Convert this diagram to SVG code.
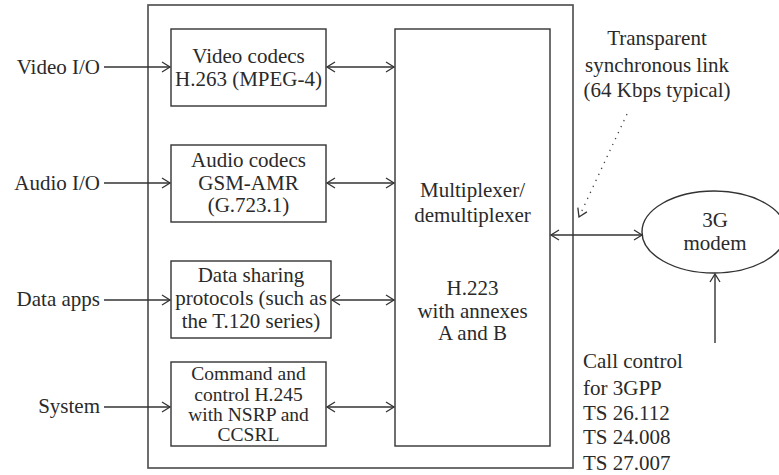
<svg xmlns="http://www.w3.org/2000/svg" width="779" height="475" viewBox="0 0 779 475">
  <style>
    text { font-family: "Liberation Serif", "Times New Roman", serif; font-size: 21px; fill: #2a2a2a; }
    .mid { text-anchor: middle; }
    .end { text-anchor: end; }
    .tight { font-size: 19.5px; }
    .box { fill: #ffffff; stroke: #333333; stroke-width: 1.4; }
    .frame { fill: none; stroke: #555555; stroke-width: 1.7; }
    .wire { fill: none; stroke: #333333; stroke-width: 1.4; }
    .dots { fill: none; stroke: #444444; stroke-width: 1.3; stroke-dasharray: 1.3 5.3; }
  </style>
  <defs>
    <marker id="head" markerUnits="userSpaceOnUse" markerWidth="12" markerHeight="12" refX="9" refY="6" orient="auto-start-reverse" viewBox="0 0 12 12">
      <path d="M1,1 L9,6 L1,11" fill="none" stroke="#333333" stroke-width="1.3"/>
    </marker>
  </defs>

  <!-- terminal frame -->
  <g id="terminal">
    <rect class="frame" x="148" y="5" width="425" height="463"/>
  </g>

  <g id="video-codecs">
    <rect class="box" x="171" y="29" width="155" height="77"/>
    <text class="mid" x="248.5" y="63">Video codecs</text>
    <text class="mid" x="248.5" y="86">H.263 (MPEG-4)</text>
  </g>

  <g id="audio-codecs">
    <rect class="box" x="171" y="145" width="155" height="77"/>
    <text class="mid" x="248.5" y="167">Audio codecs</text>
    <text class="mid" x="248.5" y="190">GSM-AMR</text>
    <text class="mid" x="248.5" y="212">(G.723.1)</text>
  </g>

  <g id="data-sharing">
    <rect class="box" x="171" y="261" width="160" height="77"/>
    <text class="mid" x="251" y="282">Data sharing</text>
    <text class="mid" x="251" y="305">protocols (such as</text>
    <text class="mid" x="251" y="328">the T.120 series)</text>
  </g>

  <g id="command-control">
    <rect class="box" x="171" y="362" width="155" height="84"/>
    <text class="mid tight" x="248.5" y="380">Command and</text>
    <text class="mid tight" x="248.5" y="401">control H.245</text>
    <text class="mid tight" x="248.5" y="421">with NSRP and</text>
    <text class="mid tight" x="248.5" y="441">CCSRL</text>
  </g>

  <g id="multiplexer">
    <rect class="box" x="395" y="29" width="155" height="417"/>
    <text class="mid" x="472.5" y="197">Multiplexer/</text>
    <text class="mid" x="472.5" y="222">demultiplexer</text>
    <text class="mid" x="472.5" y="295">H.223</text>
    <text class="mid" x="472.5" y="318">with annexes</text>
    <text class="mid" x="472.5" y="340">A and B</text>
  </g>

  <g id="modem">
    <ellipse class="box" cx="714" cy="232" rx="72" ry="41"/>
    <text class="mid" x="715" y="227">3G</text>
    <text class="mid" x="715" y="250">modem</text>
  </g>

  <!-- external interface labels -->
  <g id="inputs">
    <text class="end" x="100" y="74">Video I/O</text>
    <text class="end" x="100" y="190">Audio I/O</text>
    <text class="end" x="100" y="306">Data apps</text>
    <text class="end" x="100" y="413">System</text>
  </g>

  <g id="link-note">
    <text class="mid" x="657" y="45">Transparent</text>
    <text class="mid" x="657" y="72">synchronous link</text>
    <text class="mid" x="657" y="97">(64 Kbps typical)</text>
  </g>

  <g id="call-control">
    <text x="583" y="368">Call control</text>
    <text x="583" y="395">for 3GPP</text>
    <text x="583" y="420">TS 26.112</text>
    <text x="583" y="444">TS 24.008</text>
    <text x="583" y="470">TS 27.007</text>
  </g>

  <g id="connectors">
    <line class="wire" x1="104" y1="67" x2="170" y2="67" marker-end="url(#head)"/>
    <line class="wire" x1="104" y1="183" x2="170" y2="183" marker-end="url(#head)"/>
    <line class="wire" x1="104" y1="300" x2="170" y2="300" marker-end="url(#head)"/>
    <line class="wire" x1="104" y1="407" x2="170" y2="407" marker-end="url(#head)"/>

    <line class="wire" x1="327" y1="67" x2="394" y2="67" marker-start="url(#head)" marker-end="url(#head)"/>
    <line class="wire" x1="327" y1="183" x2="394" y2="183" marker-start="url(#head)" marker-end="url(#head)"/>
    <line class="wire" x1="332" y1="300" x2="394" y2="300" marker-start="url(#head)" marker-end="url(#head)"/>
    <line class="wire" x1="327" y1="407" x2="394" y2="407" marker-start="url(#head)" marker-end="url(#head)"/>

    <line class="wire" x1="551" y1="235" x2="642" y2="235" marker-start="url(#head)" marker-end="url(#head)"/>
    <line class="wire" x1="715" y1="343" x2="715" y2="274" marker-end="url(#head)"/>

    <line class="dots" x1="627" y1="114" x2="579" y2="217" marker-end="url(#head)"/>
  </g>
</svg>
